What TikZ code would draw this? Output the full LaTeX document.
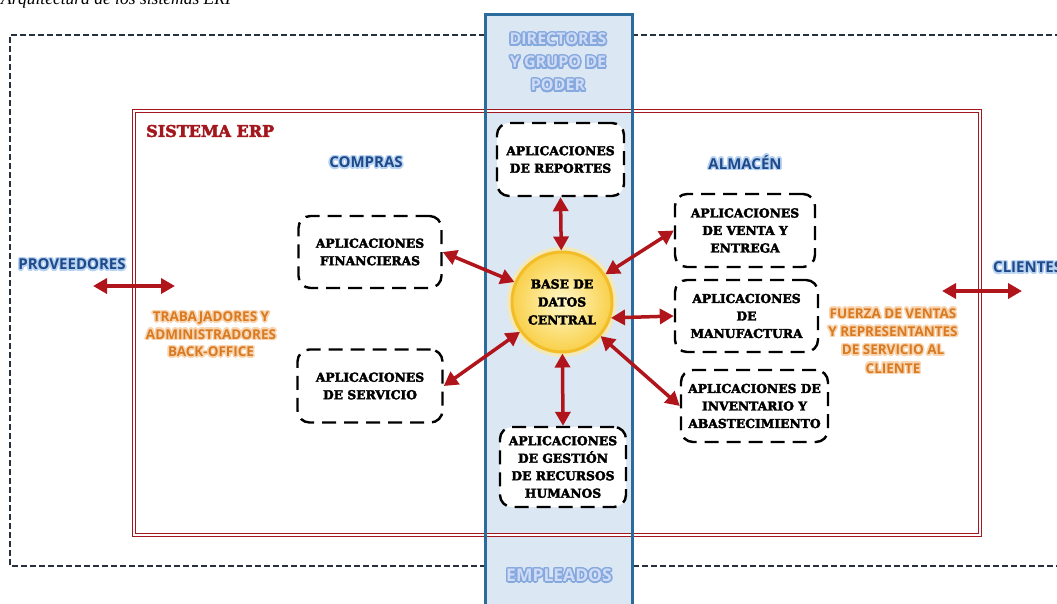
\documentclass[tikz,border=0pt]{standalone}
\usepackage{fontspec}
\setmainfont{Liberation Serif}
\newfontfamily\labelfont{Open Sans}
\newfontfamily\appfont{DejaVu Serif}[BoldFeatures={FakeBold=3}]
\usepackage[copies]{contour}
\usetikzlibrary{arrows.meta}

\definecolor{framedark}{HTML}{27313D}
\definecolor{colfill}{HTML}{DCE7F4}
\definecolor{coledge}{HTML}{2C6C9C}
\definecolor{erpred}{HTML}{A3181E}
\definecolor{arrred}{HTML}{B0151B}
\definecolor{deepblue}{HTML}{1E4A8A}
\definecolor{haloblue}{HTML}{B8D2F2}
\definecolor{paleblue}{HTML}{D0DCF7}
\definecolor{midblue}{HTML}{86A9DD}
\definecolor{orangetxt}{HTML}{D97A22}
\definecolor{halopeach}{HTML}{F8D5B0}
\definecolor{sunlight}{HTML}{FFF8C8}
\definecolor{sungold}{HTML}{F9D04A}
\definecolor{sunedge}{HTML}{F3BD28}
\definecolor{sunhalo}{HTML}{FCE9A0}

\contourlength{1.5pt}
\newcommand\haloline[2]{\contour{#1}{#2}}

\tikzset{
  app/.style={draw=black, line width=2.4pt, dash pattern=on 14pt off 8pt,
    rounded corners=12pt, fill=white, align=center, inner sep=0pt,
    font=\appfont\bfseries\fontsize{12.3}{17.5}\selectfont},
  arr/.style={{Triangle[length=14pt,width=15pt]}-{Triangle[length=14pt,width=15pt]},
    line width=3.5pt, draw=arrred},
  bluelbl/.style={font=\labelfont\bfseries\fontsize{15}{18}\selectfont,
    text=deepblue, align=center, inner sep=0pt},
  collbl/.style={font=\labelfont\bfseries\fontsize{16}{23}\selectfont,
    text=paleblue, align=center, inner sep=0pt},
  orangelbl/.style={font=\labelfont\bfseries\fontsize{13.5}{17.5}\selectfont,
    text=orangetxt, align=center, inner sep=0pt},
}

\begin{document}
\begin{tikzpicture}[x=1pt, y=-1pt]
  \useasboundingbox (0,0) rectangle (1057,603);
  \clip (0,0) rectangle (1057,603);
  \fill[white] (0,0) rectangle (1057,603);

  % caption above the figure
  \node[anchor=base west, inner sep=0pt, font=\itshape\fontsize{17.5}{20}\selectfont]
    (caption) at (1,4.5) {Arquitectura de los sistemas ERP};

  % outer dashed boundary of the organisation
  \draw[framedark, line width=1.8pt, dash pattern=on 6pt off 3pt]
    (1070,35) -- (10,35) -- (10,566) -- (1070,566);

  % vertical band: management to employees
  \fill[colfill] (485,14) rectangle (632,620);

  % ERP system frame (double red line)
  \draw[erpred, line width=1.1pt, double=white, double distance=2.4pt]
    (134,111) rectangle (980,535);

  \draw[coledge, line width=3pt] (485,620) -- (485,14) -- (632,14) -- (632,620);

  % labels
  \node[anchor=west, font=\appfont\bfseries\fontsize{16}{19}\selectfont,
        text=erpred, inner sep=0pt] (erp) at (146,131) {SISTEMA ERP};

  \node[collbl] (directors) at (558,63)
    {\haloline{midblue}{DIRECTORES}\\\haloline{midblue}{Y GRUPO DE}\\\haloline{midblue}{PODER}};
  \node[collbl, font=\labelfont\bfseries\fontsize{17.5}{21}\selectfont] (employees) at (559,576)
    {\haloline{midblue}{EMPLEADOS}};

  \node[bluelbl] (purchases) at (366,163) {\haloline{haloblue}{COMPRAS}};
  \node[bluelbl] (warehouse) at (745,163) {\haloline{haloblue}{ALMACÉN}};
  \node[bluelbl] (suppliers) at (72,265) {\haloline{haloblue}{PROVEEDORES}};
  \node[bluelbl, anchor=west] (customers) at (993,268) {\haloline{haloblue}{CLIENTES}};

  \node[orangelbl] (backoffice) at (211,335)
    {\haloline{halopeach}{TRABAJADORES Y}\\\haloline{halopeach}{ADMINISTRADORES}\\\haloline{halopeach}{BACK-OFFICE}};
  \node[orangelbl, font=\labelfont\bfseries\fontsize{13.5}{18.3}\selectfont] (salesforce) at (893,341.5)
    {\haloline{halopeach}{FUERZA DE VENTAS}\\\haloline{halopeach}{Y REPRESENTANTES}\\\haloline{halopeach}{DE SERVICIO AL}\\\haloline{halopeach}{CLIENTE}};

  % central database
  \fill[sunhalo, opacity=0.7] (562,302) circle (55);
  \node[circle, minimum size=100pt, inner sep=0pt, draw=sunedge, line width=3pt,
        inner color=sunlight, outer color=sungold, align=center,
        font=\appfont\bfseries\fontsize{12.3}{18}\selectfont]
    (db) at (562,302) {BASE DE\\DATOS\\CENTRAL};

  % application modules
  \node[app, minimum width=143pt, minimum height=72pt] (fin) at (370,252)
    {APLICACIONES\\FINANCIERAS};
  \node[app, minimum width=145pt, minimum height=73pt] (serv) at (370,386)
    {APLICACIONES\\DE SERVICIO};
  \node[app, minimum width=127pt, minimum height=73pt] (rep) at (560.5,159.5)
    {APLICACIONES\\DE REPORTES};
  \node[app, minimum width=126pt, minimum height=80pt] (hr) at (563,467)
    {APLICACIONES\\DE GESTIÓN\\DE RECURSOS\\HUMANOS};
  \node[app, minimum width=140pt, minimum height=73pt] (sales) at (745,230.5)
    {APLICACIONES\\DE VENTA Y\\ENTREGA};
  \node[app, minimum width=143pt, minimum height=72pt] (mfg) at (746.5,316)
    {APLICACIONES\\DE\\MANUFACTURA};
  \node[app, minimum width=147pt, minimum height=72pt] (inv) at (754.5,406)
    {APLICACIONES DE\\INVENTARIO Y\\ABASTECIMIENTO};

  % connections to the database
  \draw[arr] (fin.east) -- (db);
  \draw[arr] (serv.east) -- (db);
  \draw[arr] (rep.south) -- (db);
  \draw[arr] (hr.north) -- (db);
  \draw[arr] (sales.west) -- (db);
  \draw[arr] (mfg.west) -- (db.-18);
  \draw[arr] (inv.west) -- (db);

  % exchanges with suppliers and customers
  \coordinate (supL) at (93,286);
  \coordinate (supR) at (175,286);
  \coordinate (cusL) at (942,291);
  \coordinate (cusR) at (1022,291);
  \draw[arr] (supL) -- (supR);
  \draw[arr] (cusL) -- (cusR);
\end{tikzpicture}
\end{document}
